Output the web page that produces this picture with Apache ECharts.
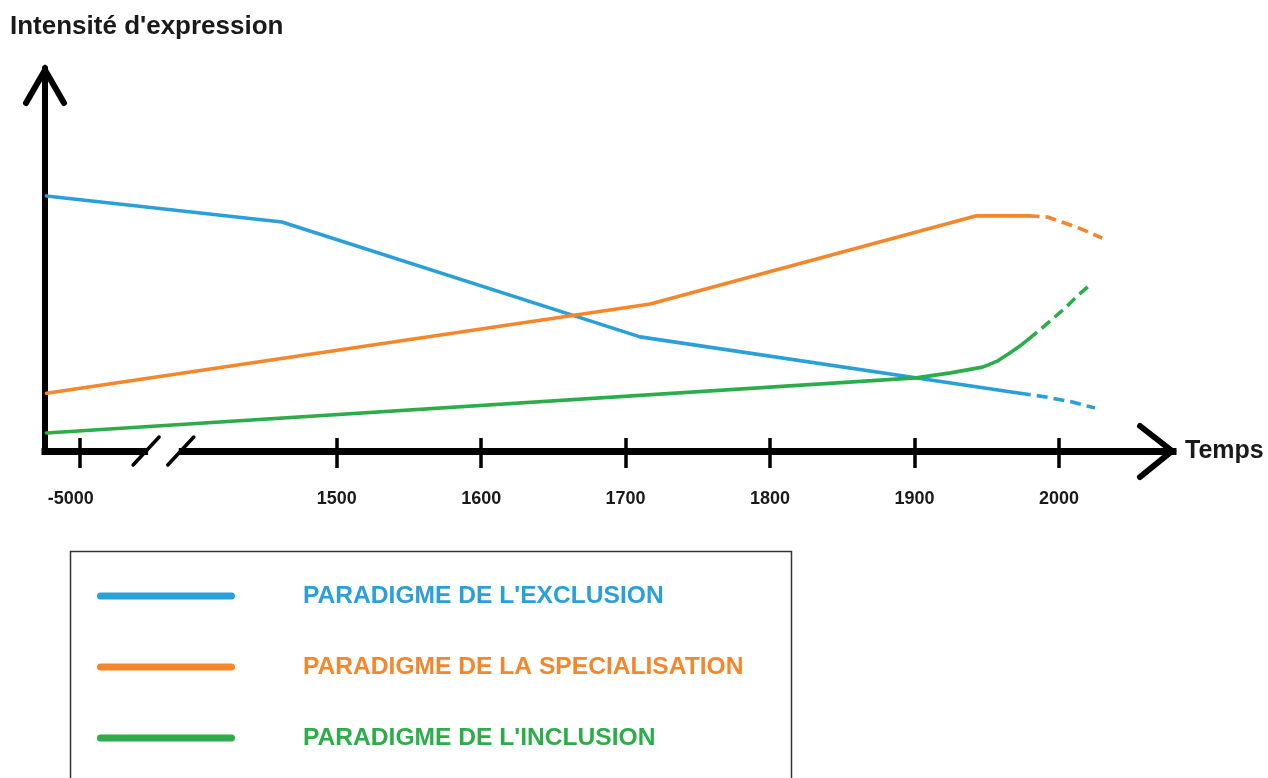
<!DOCTYPE html>
<html>
<head>
<meta charset="utf-8">
<script src="https://cdn.jsdelivr.net/npm/echarts@6/dist/echarts.min.js"></script>
<style>
html,body{margin:0;padding:0;background:#fff;}
#chart{width:1268px;height:778px;}
</style>
</head>
<body>
<div id="chart"></div>
<script>
// ---- data (x in axis units: years after the break, -5000 placed before the break) ----
const tickValues = [1322, 1500, 1600, 1700, 1800, 1900, 2000];
const tickLabels = ['-5000', '1500', '1600', '1700', '1800', '1900', '2000'];
const seriesNames = ["PARADIGME DE L'EXCLUSION", "PARADIGME DE LA SPECIALISATION", "PARADIGME DE L'INCLUSION"];
const exclusionSolid = [[1299, 66.6], [1462, 59.8], [1710, 29.8], [1973, 15.1]];
const exclusionDashed = [[1973, 15.1], [1991, 14.1], [2008, 12.9], [2025, 11.2]];
const specialisationSolid = [[1299, 15.1], [1717, 38.4], [1943, 61.4], [1979, 61.4]];
const specialisationDashed = [[1979, 61.4], [1992, 61.1], [2001, 59.9], [2008, 59.0], [2014, 58.2], [2022, 56.9], [2030, 55.6]];
const inclusionSolid = [[1299, 4.7], [1901, 19.1], [1925, 20.4], [1947, 21.9], [1952, 22.6], [1958, 23.6], [1966, 25.6], [1973, 27.4], [1979, 29.2]];
const inclusionDashed = [[1979, 29.2], [1987, 31.7], [1996, 34.6], [2006, 37.9], [2013, 40.6], [2022, 43.5]];

const colors = ['#2a9fd8', '#f4872c', '#2cad4a'];
const X_MIN = 1298, X_MAX = 2079, Y_MIN = 0, Y_MAX = 100;
const BREAK_AT = [1368, 1392];
const FONT = '"Liberation Sans", Arial, sans-serif';

const chart = echarts.init(document.getElementById('chart'), null, {renderer: 'canvas'});

function solid(name, data, color) {
  return {
    name: name, type: 'line', data: data, xAxisIndex: 0, yAxisIndex: 0,
    showSymbol: false, symbol: 'none', smooth: false,
    silent: true, animation: false, z: 3,
    itemStyle: {color: color},
    lineStyle: {color: color, width: 3.6, cap: 'round', join: 'round'}
  };
}
function dashed(name, data, color) {
  return {
    name: name, type: 'line', data: data, xAxisIndex: 0, yAxisIndex: 0,
    showSymbol: false, symbol: 'none', smooth: false,
    silent: true, animation: false, z: 3,
    itemStyle: {color: color},
    lineStyle: {color: color, width: 3.6, type: [11, 6], cap: 'butt', join: 'round'}
  };
}

const option = {
  backgroundColor: '#fff',
  animation: false,
  title: {
    text: "Intensité d'expression",
    left: 10, top: 14, padding: 0,
    textStyle: {fontFamily: FONT, fontWeight: 'bold', fontSize: 26, color: '#1a1a1a'}
  },
  grid: {left: 45, right: 95, top: 68, bottom: 327, containLabel: false},
  xAxis: [{
    type: 'value', min: X_MIN, max: X_MAX, position: 'bottom',
    name: 'Temps', nameLocation: 'end', nameGap: 12,
    nameTextStyle: {fontFamily: FONT, fontWeight: 'bold', fontSize: 25, color: '#1a1a1a', verticalAlign: 'middle'},
    axisLine: {show: true, onZero: false, lineStyle: {color: '#000', width: 7, cap: 'square'}},
    axisTick: {show: true, inside: false, length: 17, customValues: tickValues,
      lineStyle: {color: '#000', width: 3.5}},
    axisLabel: {
      show: true, margin: 39, customValues: tickValues,
      fontFamily: FONT, fontWeight: 'bold', fontSize: 18, color: '#1a1a1a',
      formatter: function (v) {
        const i = tickValues.indexOf(v);
        const t = i >= 0 ? tickLabels[i] : '';
        return t.charAt(0) === '-' ? '{neg|' + t + '}' : t;
      },
      rich: {neg: {fontFamily: FONT, fontWeight: 'bold', fontSize: 18, color: '#1a1a1a', padding: [0, 18, 0, 0]}}
    },
    splitLine: {show: false}
  }, {
    type: 'value', min: X_MIN, max: X_MAX, position: 'bottom', offset: 0,
    axisLine: {show: false},
    axisTick: {show: true, inside: true, length: 13, customValues: tickValues,
      lineStyle: {color: '#000', width: 3.5}},
    axisLabel: {show: false},
    splitLine: {show: false}
  }],
  yAxis: {
    type: 'value', min: Y_MIN, max: Y_MAX,
    axisLine: {show: true, lineStyle: {color: '#000', width: 6}},
    axisTick: {show: false}, axisLabel: {show: false}, splitLine: {show: false}
  },
  legend: {
    show: true, orient: 'vertical', left: 97, top: 581, padding: 0,
    itemWidth: 138, itemHeight: 7, itemGap: 41, selectedMode: false,
    icon: 'path://M3.5,0 L134.5,0 A3.5,3.5 0 0 1 134.5,7 L3.5,7 A3.5,3.5 0 0 1 3.5,0 Z',
    textStyle: {fontFamily: FONT, fontWeight: 'bold', fontSize: 24.6, lineHeight: 30, padding: [0, 0, 0, 63]},
    data: seriesNames.map(function (n, i) {
      return {name: n, textStyle: {color: colors[i]}, itemStyle: {color: colors[i]}};
    })
  },
  series: [
    solid(seriesNames[0], exclusionSolid, colors[0]),
    dashed('exclusion-dashed', exclusionDashed, colors[0]),
    solid(seriesNames[1], specialisationSolid, colors[1]),
    dashed('specialisation-dashed', specialisationDashed, colors[1]),
    solid(seriesNames[2], inclusionSolid, colors[2]),
    dashed('inclusion-dashed', inclusionDashed, colors[2])
  ]
};
chart.setOption(option);

// decorations: arrow heads, axis break, legend frame (positions derived from the axes)
const origin = chart.convertToPixel({gridIndex: 0}, [X_MIN, Y_MIN]);
const topEnd = chart.convertToPixel({gridIndex: 0}, [X_MIN, Y_MAX]);
const rightEnd = chart.convertToPixel({gridIndex: 0}, [X_MAX, Y_MIN]);
const b1 = chart.convertToPixel({gridIndex: 0}, [BREAK_AT[0], Y_MIN]);
const b2 = chart.convertToPixel({gridIndex: 0}, [BREAK_AT[1], Y_MIN]);
const ax = origin[1];
const arrowStyle = {stroke: '#000', lineWidth: 6, fill: null, lineCap: 'round', lineJoin: 'miter'};
chart.setOption({
  graphic: [
    {type: 'polyline', z: 10, silent: true,
      shape: {points: [[topEnd[0] - 19, topEnd[1] + 35], [topEnd[0], topEnd[1] + 2], [topEnd[0] + 19, topEnd[1] + 35]]},
      style: arrowStyle},
    {type: 'polyline', z: 10, silent: true,
      shape: {points: [[rightEnd[0] - 33, ax - 25], [rightEnd[0] - 1, ax], [rightEnd[0] - 33, ax + 26]]},
      style: arrowStyle},
    {type: 'rect', z: 10, silent: true,
      shape: {x: b1[0] + 2, y: ax - 5, width: b2[0] - b1[0] - 4, height: 10},
      style: {fill: '#fff'}},
    {type: 'line', z: 11, silent: true,
      shape: {x1: b1[0] - 13, y1: ax + 14, x2: b1[0] + 13, y2: ax - 14},
      style: {stroke: '#000', lineWidth: 3.5, lineCap: 'round'}},
    {type: 'line', z: 11, silent: true,
      shape: {x1: b2[0] - 13, y1: ax + 14, x2: b2[0] + 13, y2: ax - 14},
      style: {stroke: '#000', lineWidth: 3.5, lineCap: 'round'}},
    {type: 'rect', z: 1, silent: true,
      shape: {x: 70.5, y: 551.5, width: 721, height: 260},
      style: {fill: null, stroke: '#333', lineWidth: 1.5}}
  ]
});
</script>
</body>
</html>
